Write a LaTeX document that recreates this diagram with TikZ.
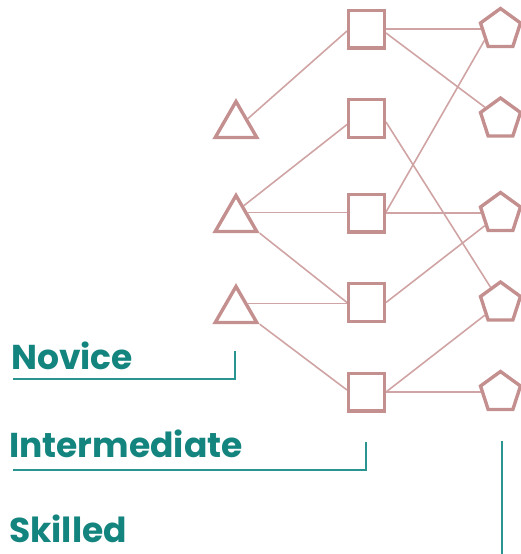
\documentclass[tikz,border=0pt]{standalone}
\usepackage{fontspec}
\setmainfont{Poppins}
\usetikzlibrary{shapes.geometric,calc,backgrounds}
\definecolor{rose}{HTML}{C48F8F}
\definecolor{roseline}{HTML}{D0A4A4}
\definecolor{teal}{HTML}{13847E}
\definecolor{tealline}{HTML}{2A9590}
\tikzset{
  sq/.style={draw=rose, line width=3.4pt, rectangle, minimum width=35.6pt, minimum height=37.6pt, inner sep=0pt},
  tri/.style={draw=rose, line width=3.4pt, regular polygon, regular polygon sides=3, minimum size=48pt, inner sep=0pt},
  pent/.style={draw=rose, line width=3.4pt, regular polygon, regular polygon sides=5, minimum size=42pt, inner sep=0pt},
  link/.style={draw=roseline, line width=1.6pt},
  lbl/.style={text=teal, font=\fontsize{34.5}{40}\selectfont\bfseries, anchor=base west, inner sep=0pt},
  guide/.style={draw=tealline, line width=1.5pt}
}
\begin{document}
\begin{tikzpicture}[x=1pt,y=-1pt]
\useasboundingbox (0,0) rectangle (520,554);
% triangles
\node[tri] (t1) at (236,125.5) {};
\node[tri] (t2) at (236,219.5) {};
\node[tri] (t3) at (236,310.5) {};
% squares
\node[sq] (s1) at (366.5,29) {};
\node[sq] (s2) at (366.5,118.5) {};
\node[sq] (s3) at (366.5,213) {};
\node[sq] (s4) at (366.5,302.5) {};
\node[sq] (s5) at (366.5,392) {};
% pentagons
\node[pent] (p1) at (500.5,29.5) {};
\node[pent] (p2) at (500.5,119) {};
\node[pent] (p3) at (500.5,213.5) {};
\node[pent] (p4) at (500.5,303) {};
\node[pent] (p5) at (500.5,392.5) {};
% connectors
\begin{scope}[on background layer]
\draw[link] (t1.side 3) -- ($(s1.west)+(0,2)$);
\draw[link] ($(s2.west)+(0,6)$) -- ($(t2.corner 1)!0.33!(t2.corner 3)$);
\draw[link] (t2.side 3) -- (t2.side 3 -| s3.west);
\draw[link] (t2.corner 3) -- (s4.west);
\draw[link] (t3.side 3) -- (t3.side 3 -| s4.west);
\draw[link] (t3.corner 3) -- ($(s5.west)+(0,-2)$);
\draw[link] (s1.east) -- (s1.east -| p1.west);
\draw[link] ($(s1.east)+(0,4)$) -- (p2);
\draw[link] ($(s2.east)+(0,3.5)$) -- (p4);
\draw[link] ($(s3.east)+(0,-1)$) -- ($(p1.corner 2)!0.7!(p1.corner 3)$);
\draw[link] (s3.east) -- (s3.east -| p3.west);
\draw[link] (s4.east) -- (p3);
\draw[link] (s5.east) -- (p4);
\draw[link] (s5.east) -- (s5.east -| p5.west);
\end{scope}
% labels
\node[lbl] (novice) at (11,369) {Novice};
\node[lbl] (inter) at (9,457) {Intermediate};
\node[lbl] (skilled) at (9,542) {Skilled};
\coordinate (n0) at (13,379);
\coordinate (n1) at (235,379);
\coordinate (n2) at (235,351);
\coordinate (i0) at (13,470);
\coordinate (i1) at (366,470);
\coordinate (i2) at (366,442);
\coordinate (k0) at (502,441);
\coordinate (k1) at (502,554);
\draw[guide] (n0) -- (n1) -- (n2);
\draw[guide] (i0) -- (i1) -- (i2);
\draw[guide] (k0) -- (k1);
\end{tikzpicture}
\end{document}
